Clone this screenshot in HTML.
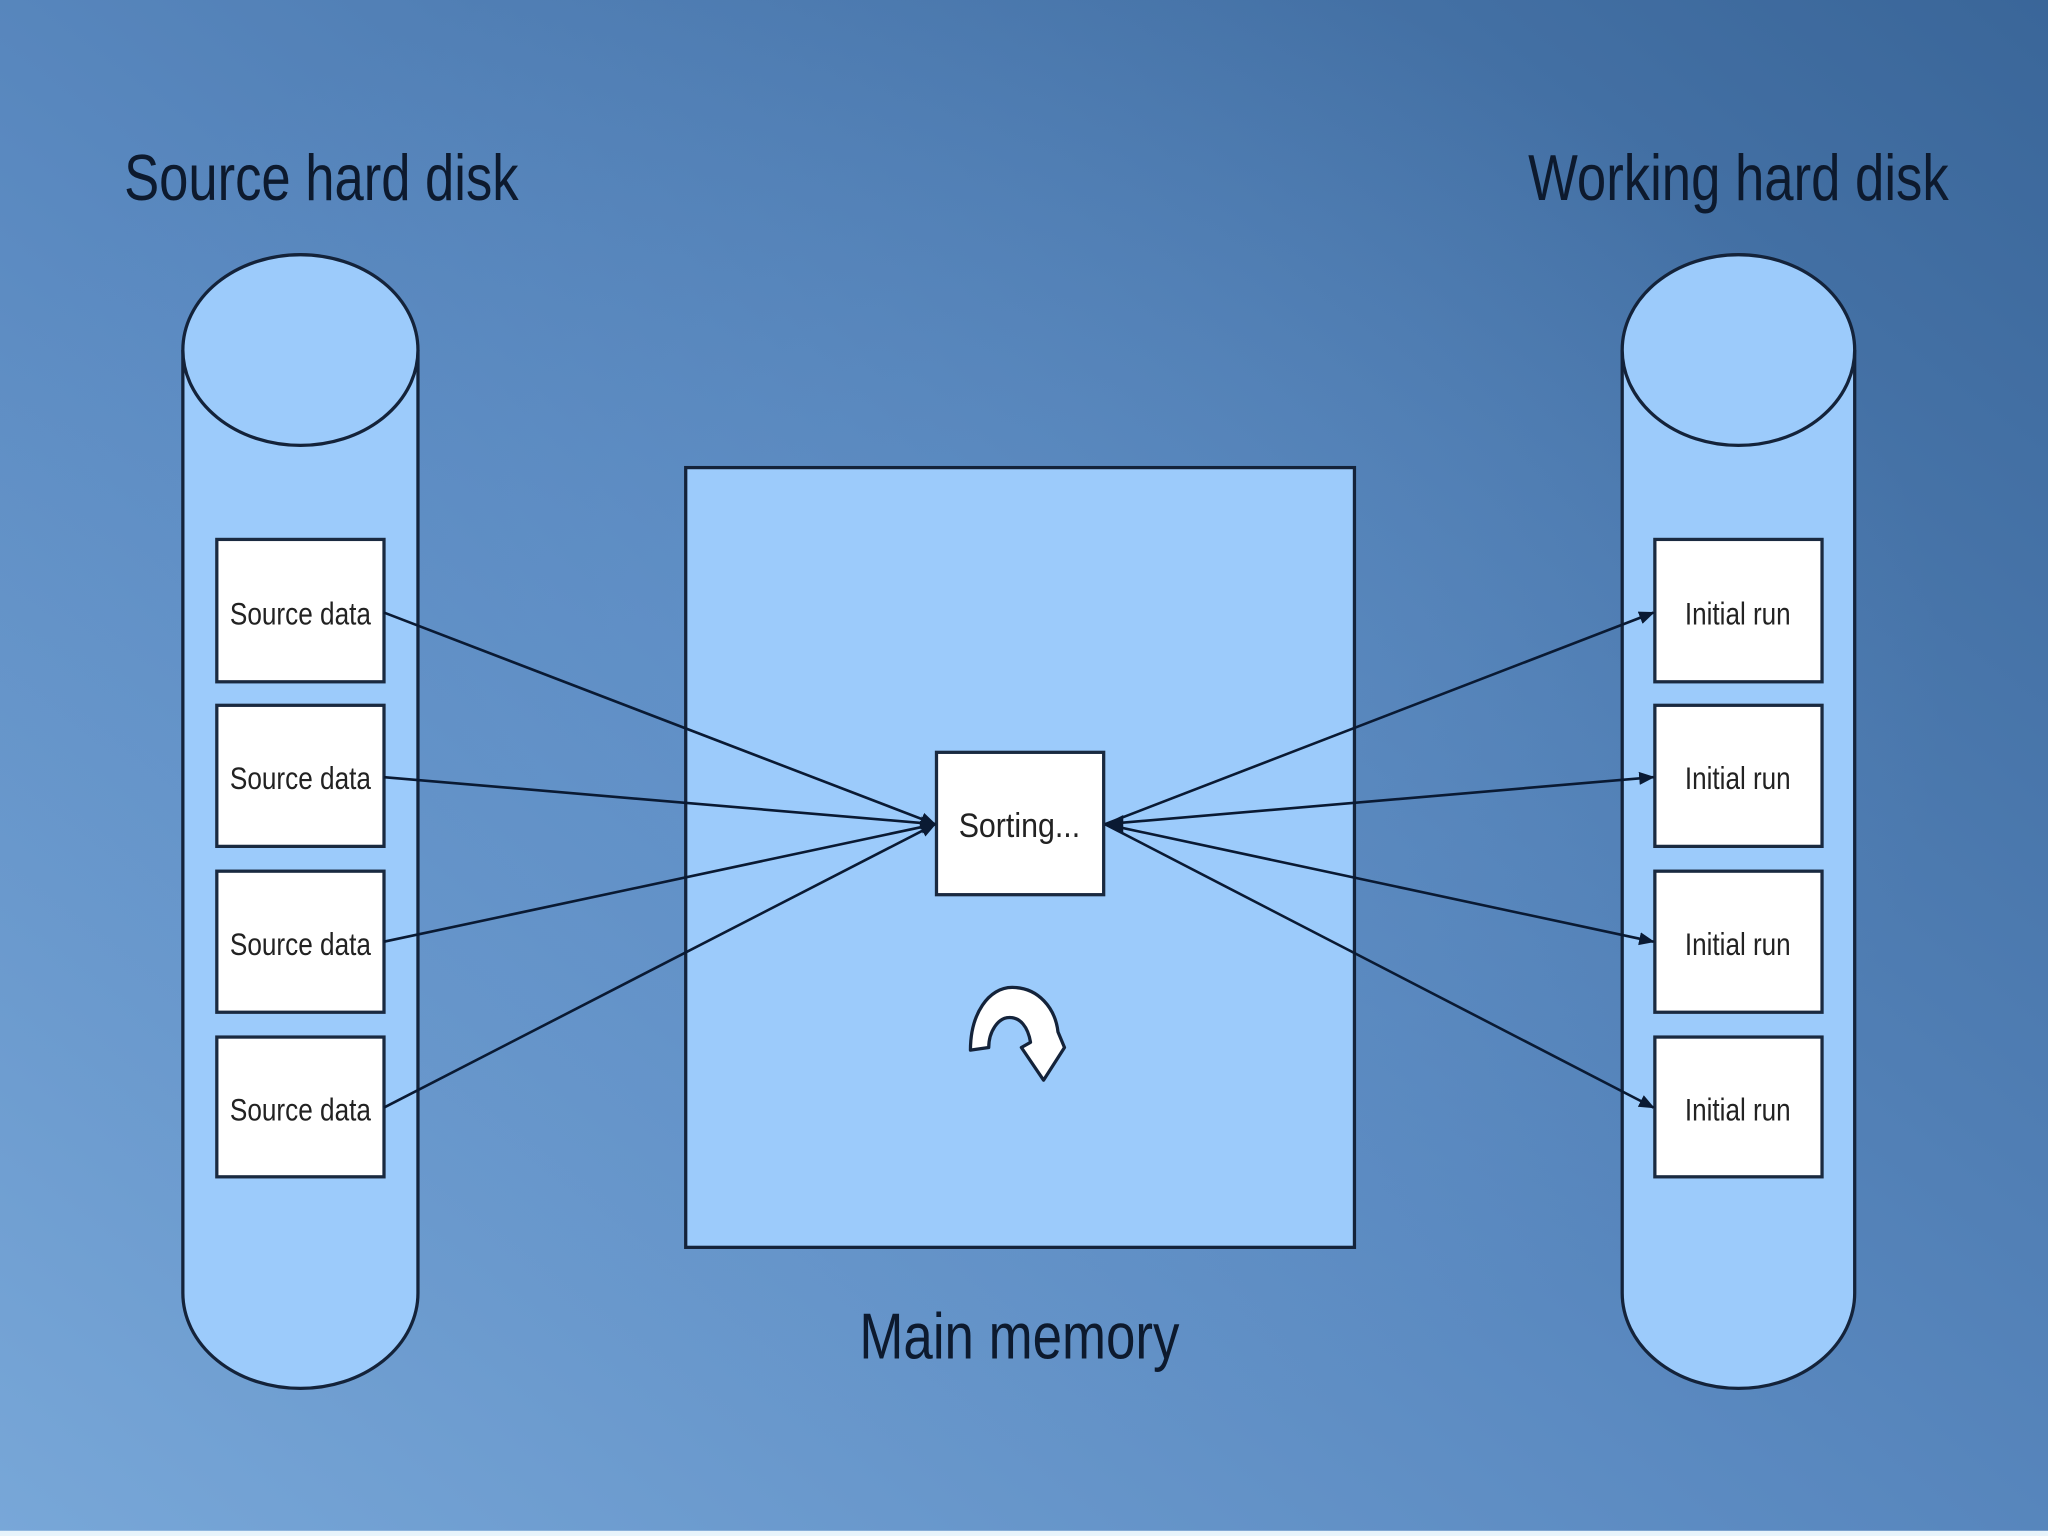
<!DOCTYPE html>
<html><head><meta charset="utf-8"><style>
html,body{margin:0;padding:0;width:2048px;height:1536px;overflow:hidden;}
svg{display:block;}
text{font-family:"Liberation Sans",sans-serif;}
</style></head><body>
<svg width="2048" height="1536" viewBox="0 0 1568 1176" xmlns="http://www.w3.org/2000/svg">
<defs>
<linearGradient id="bg" x1="0" y1="1" x2="1" y2="0">
<stop offset="0" stop-color="#78a7d8"/>
<stop offset="0.45" stop-color="#5a89c0"/>
<stop offset="1" stop-color="#3a6699"/>
</linearGradient>
<radialGradient id="glow" cx="0.45" cy="0.45" r="0.5">
<stop offset="0" stop-color="#6a9ad0" stop-opacity="0.5"/>
<stop offset="1" stop-color="#6a9ad0" stop-opacity="0"/>
</radialGradient>
<marker id="ah" markerWidth="12" markerHeight="12" refX="11" refY="6" orient="auto" markerUnits="userSpaceOnUse">
<path d="M0,1 L12,6 L0,11 z" fill="#0a1a33"/>
</marker>
</defs>
<rect width="1568" height="1176" fill="url(#bg)"/>
<rect width="1568" height="1176" fill="url(#glow)"/>
<rect y="1172" width="1568" height="4" fill="#e8f4fb"/>

<text x="95" y="153" font-size="50" fill="#0d1a2e" textLength="302" lengthAdjust="spacingAndGlyphs">Source hard disk</text>
<text x="1170" y="153" font-size="50" fill="#0d1a2e" textLength="322" lengthAdjust="spacingAndGlyphs">Working hard disk</text>
<text x="658" y="1040" font-size="50" fill="#0d1a2e" textLength="245" lengthAdjust="spacingAndGlyphs">Main memory</text>

<g fill="#9ccbfb" stroke="#14233a" stroke-width="2.5">
<path d="M140,268 L140,990 A90,73 0 0 0 320,990 L320,268"/>
<ellipse cx="230" cy="268" rx="90" ry="73"/>
<path d="M1242,268 L1242,990 A89,73 0 0 0 1420,990 L1420,268"/>
<ellipse cx="1331" cy="268" rx="89" ry="73"/>
<rect x="525" y="358" width="512" height="597"/>
</g>

<g fill="#fff" stroke="#1a2a40" stroke-width="2.5">
<rect x="166" y="413" width="128" height="109"/>
<rect x="166" y="540" width="128" height="108"/>
<rect x="166" y="667" width="128" height="108"/>
<rect x="166" y="794" width="128" height="107"/>
<rect x="1267" y="413" width="128" height="109"/>
<rect x="1267" y="540" width="128" height="108"/>
<rect x="1267" y="667" width="128" height="108"/>
<rect x="1267" y="794" width="128" height="107"/>
<rect x="717" y="576" width="128" height="109"/>
</g>

<g font-size="24" fill="#222" lengthAdjust="spacingAndGlyphs">
<text x="176" y="478" textLength="108" lengthAdjust="spacingAndGlyphs">Source data</text>
<text x="176" y="604" textLength="108" lengthAdjust="spacingAndGlyphs">Source data</text>
<text x="176" y="731" textLength="108" lengthAdjust="spacingAndGlyphs">Source data</text>
<text x="176" y="858" textLength="108" lengthAdjust="spacingAndGlyphs">Source data</text>
<text x="1290" y="478" textLength="81" lengthAdjust="spacingAndGlyphs">Initial run</text>
<text x="1290" y="604" textLength="81" lengthAdjust="spacingAndGlyphs">Initial run</text>
<text x="1290" y="731" textLength="81" lengthAdjust="spacingAndGlyphs">Initial run</text>
<text x="1290" y="858" textLength="81" lengthAdjust="spacingAndGlyphs">Initial run</text>
<text x="734" y="641" font-size="26" textLength="93" lengthAdjust="spacingAndGlyphs">Sorting...</text>
</g>

<g stroke="#0a1a33" stroke-width="2" fill="none" marker-end="url(#ah)">
<line x1="294" y1="469" x2="716" y2="631"/>
<line x1="294" y1="595" x2="716" y2="631"/>
<line x1="294" y1="721" x2="716" y2="631"/>
<line x1="294" y1="848" x2="716" y2="631"/>
<line x1="846" y1="631" x2="1266" y2="469"/>
<line x1="846" y1="631" x2="1266" y2="595"/>
<line x1="846" y1="631" x2="1266" y2="721"/>
<line x1="846" y1="631" x2="1266" y2="848"/>
</g>
<path d="M846,631 L860,624 L860,638 z" fill="#0a1a33"/>

<path d="M743,804 C743,776 757,756 775,756 C795,756 808,772 810,790 L815,802 L799,827 L782,802 L789,798 C787,786 781,779 773,779 C764,779 757,790 757,802 Z" fill="#fff" stroke="#14233a" stroke-width="2.5" stroke-linejoin="round"/>
</svg>
</body></html>
